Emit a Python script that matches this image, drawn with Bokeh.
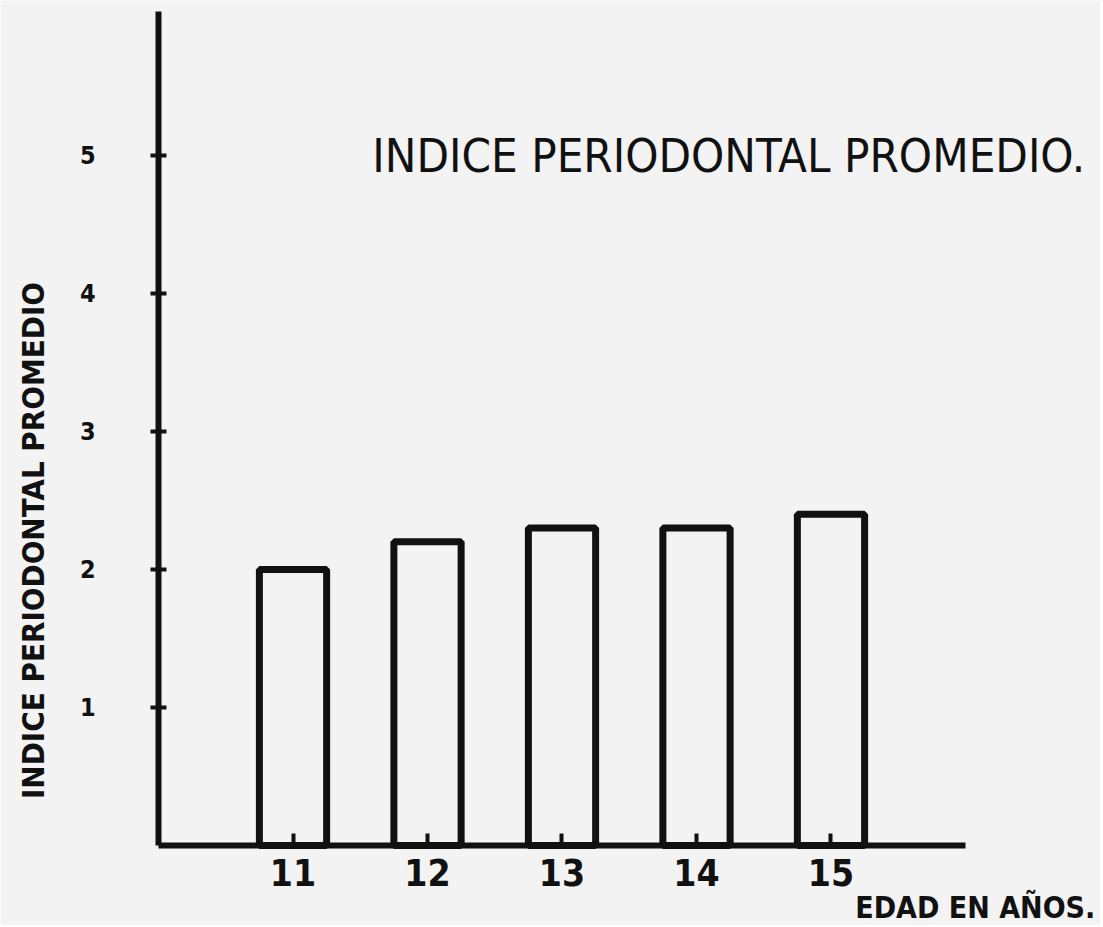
import math
from bokeh.plotting import figure
from bokeh.models import Range1d, FixedTicker, Label, ColumnDataSource, LinearAxis
from bokeh.embed import file_html
from bokeh.resources import INLINE

# ---- data ----
ages = [11, 12, 13, 14, 15]
age_labels = ["11", "12", "13", "14", "15"]
indice = [2.0, 2.2, 2.3, 2.3, 2.4]
y_ticks = [1, 2, 3, 4, 5]

title_text = "INDICE PERIODONTAL PROMEDIO."
y_title = "INDICE PERIODONTAL PROMEDIO"
x_title = "EDAD EN AÑOS."

BG = "#f3f3f3"
INK = "#111111"
FONT = "DejaVu Sans Condensed"

W, H = 1100, 925
# frame covers the whole canvas; axes are placed at fixed locations
p = figure(width=W, height=H, output_backend="svg", toolbar_location=None,
           x_range=Range1d(8.825, 17.004), y_range=Range1d(-0.58, 6.123),
           x_axis_location=None, y_axis_location=None,
           min_border_left=0, min_border_right=0, min_border_top=0, min_border_bottom=0)
p.background_fill_color = BG
p.border_fill_color = BG
p.outline_line_color = None
p.grid.visible = False

src = ColumnDataSource(dict(x=ages, top=indice))
p.vbar(x="x", top="top", bottom=0, width=0.5, source=src,
       fill_color=BG, line_color=INK, line_width=7)

# y axis
ya = LinearAxis(fixed_location=10, bounds=(0, 6.04), ticker=FixedTicker(ticks=y_ticks))
ya.axis_line_width = 6
ya.axis_line_color = INK
ya.major_tick_line_width = 4
ya.major_tick_line_color = INK
ya.major_tick_in = 8
ya.major_tick_out = 8
ya.minor_tick_line_color = None
ya.major_label_standoff = 55
ya.major_label_text_font = FONT
ya.major_label_text_font_style = "bold"
ya.major_label_text_font_size = "25px"
ya.major_label_text_color = INK
p.add_layout(ya, "left")

# x axis
xa = LinearAxis(fixed_location=0, bounds=(10, 16), ticker=FixedTicker(ticks=ages))
xa.major_label_overrides = {a: l for a, l in zip(ages, age_labels)}
xa.axis_line_width = 6
xa.axis_line_color = INK
xa.major_tick_line_width = 4
xa.major_tick_line_color = INK
xa.major_tick_in = 12
xa.major_tick_out = 0
xa.minor_tick_line_color = None
xa.major_label_standoff = 14
xa.major_label_text_font = FONT
xa.major_label_text_font_style = "bold"
xa.major_label_text_font_size = "37px"
xa.major_label_text_color = INK
p.add_layout(xa, "below")

p.add_layout(Label(x=11.59, y=5.0, text=title_text, text_font=FONT,
                   text_font_size="47px", text_color=INK, text_baseline="middle"))
p.add_layout(Label(x=9.07, y=2.21, text=y_title, angle=math.pi / 2,
                   text_font=FONT, text_font_style="bold", text_font_size="31px",
                   text_color=INK, text_align="center", text_baseline="middle"))
p.add_layout(Label(x=15.18, y=-0.45, text=x_title, text_font=FONT,
                   text_font_style="bold", text_font_size="30px", text_color=INK,
                   text_baseline="middle"))

open("out.html", "w").write(file_html(p, INLINE))
